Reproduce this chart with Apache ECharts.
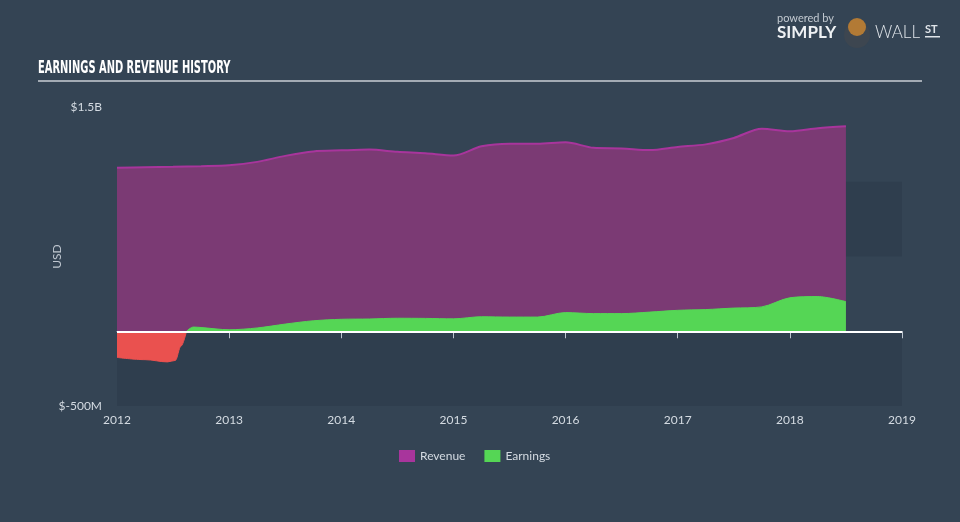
<!DOCTYPE html>
<html>
<head>
<meta charset="utf-8">
<script src="https://cdn.jsdelivr.net/npm/echarts@6/dist/echarts.min.js"></script>
<style>
html,body{margin:0;padding:0;background:#344454;}
#chart{width:960px;height:522px;}
</style>
</head>
<body>
<div id="chart"></div>
<script>
// ---- data (values in USD millions, x in decimal years) ----
var xTicks = [2012, 2013, 2014, 2015, 2016, 2017, 2018, 2019];
var yTickLabels = {"1500": "$1.5B", "-500": "$-500M"};

var revYears = [2012.0, 2012.25, 2012.5, 2012.75, 2013.0, 2013.25, 2013.5, 2013.75, 2014.0, 2014.25, 2014.5, 2014.75, 2015.0, 2015.25, 2015.5, 2015.75, 2016.0, 2016.25, 2016.5, 2016.75, 2017.0, 2017.25, 2017.5, 2017.75, 2018.0, 2018.25, 2018.5];
var revenue = [1093, 1097, 1100, 1104, 1110, 1133, 1173, 1203, 1210, 1215, 1200, 1190, 1175, 1237, 1255, 1255, 1264, 1227, 1223, 1212, 1233, 1250, 1293, 1355, 1337, 1358, 1371];

var negYears = [2012.0, 2012.25, 2012.45, 2012.52, 2012.57, 2012.62];
var negEarnings = [-175, -190, -205, -195, -100, 0];

var posYears = [2012.62, 2012.68, 2012.75, 2013.0, 2013.25, 2013.5, 2013.75, 2014.0, 2014.25, 2014.5, 2014.75, 2015.0, 2015.25, 2015.5, 2015.75, 2016.0, 2016.25, 2016.5, 2016.75, 2017.0, 2017.25, 2017.5, 2017.75, 2018.0, 2018.25, 2018.5];
var posEarnings = [0, 28, 25, 10, 22, 48, 70, 80, 82, 87, 86, 83, 97, 95, 95, 125, 118, 118, 128, 140, 145, 155, 163, 224, 232, 198];

function zip(xs, ys) { return xs.map(function (x, i) { return [x, ys[i]]; }); }

var C_REV_LINE = '#a8359c';
var C_REV_FILL = '#7b3a74';
var C_GREEN = '#55d655';
var C_RED = '#ea514f';
var TXT = '#d4dbe2';
var FONT = 'Lato, "Open Sans", sans-serif';

var chart = echarts.init(document.getElementById('chart'));
chart.setOption({
  backgroundColor: '#344454',
  animation: false,
  grid: { left: 117, right: 58, top: 107, bottom: 116 },
  legend: {
    data: [
      { name: 'Revenue', itemStyle: { color: C_REV_LINE } },
      { name: 'Earnings', itemStyle: { color: C_GREEN } }
    ],
    left: 394, top: 445,
    itemWidth: 16, itemHeight: 12, itemGap: 19,
    icon: 'rect',
    textStyle: { color: TXT, fontFamily: FONT, fontSize: 12 }
  },
  xAxis: {
    type: 'value', min: xTicks[0], max: xTicks[xTicks.length - 1], interval: 1,
    axisLine: { lineStyle: { color: '#bcc5cf', width: 1 } },
    axisTick: { length: 7, lineStyle: { color: '#bcc5cf' } },
    splitLine: { show: false },
    axisLabel: { color: TXT, fontFamily: FONT, fontSize: 12, margin: 8,
      formatter: function (v) { return String(Math.round(v)); } }
  },
  yAxis: {
    type: 'value', min: -500, max: 1500, interval: 500,
    name: 'USD', nameLocation: 'middle', nameGap: 54, nameRotate: 90,
    nameMoveOverlap: false,
    nameTextStyle: { color: '#bfc7d0', fontFamily: FONT, fontSize: 12 },
    axisLine: { show: false }, axisTick: { show: false },
    splitLine: { show: false },
    splitArea: { show: true, areaStyle: { color: ['rgba(20,30,42,0.14)', 'rgba(0,0,0,0)'] } },
    axisLabel: { color: TXT, fontFamily: FONT, fontSize: 12, margin: 15,
      formatter: function (v) { return yTickLabels[String(v)] || ''; } }
  },
  series: [
    {
      name: 'Revenue', type: 'line', data: zip(revYears, revenue),
      smooth: 0.3, symbol: 'none',
      lineStyle: { color: C_REV_LINE, width: 2 },
      itemStyle: { color: C_REV_LINE },
      areaStyle: { color: C_REV_FILL, opacity: 1 },
      z: 2
    },
    {
      name: 'Earnings', type: 'line', data: zip(posYears, posEarnings),
      smooth: 0.3, symbol: 'none',
      lineStyle: { color: C_GREEN, width: 1 },
      itemStyle: { color: C_GREEN },
      areaStyle: { color: C_GREEN, opacity: 1 },
      z: 3
    },
    {
      name: 'Loss', type: 'line', data: zip(negYears, negEarnings),
      smooth: 0.35, smoothMonotone: 'x', symbol: 'none',
      lineStyle: { color: C_RED, width: 1 },
      itemStyle: { color: C_RED },
      areaStyle: { color: C_RED, opacity: 1 },
      z: 3,
      markLine: {
        silent: true, symbol: 'none', label: { show: false },
        lineStyle: { color: '#ffffff', width: 2, type: 'solid' },
        data: [{ yAxis: 0 }]
      }
    }
  ],
  graphic: [
    { type: 'text', x: 38, y: 68, scaleY: 1.6,
      style: { text: 'EARNINGS AND REVENUE HISTORY', fill: '#ffffff',
        font: 'bold 11px "Liberation Sans Narrow", "DejaVu Sans Condensed", sans-serif',
        textVerticalAlign: 'middle' } },
    { type: 'rect', shape: { x: 38, y: 80, width: 884, height: 2 },
      style: { fill: '#a3abb4' } },
    // logo
    { type: 'text', x: 777, y: 18,
      style: { text: 'powered by', fill: '#c3cad1', font: '11px Lato, sans-serif', textVerticalAlign: 'middle' } },
    { type: 'text', x: 777, y: 33,
      style: { text: 'SIMPLY', fill: '#eef1f4', font: 'bold 17px Lato, sans-serif', textVerticalAlign: 'middle' } },
    { type: 'circle', shape: { cx: 857, cy: 35, r: 13 }, style: { fill: '#3d4650' } },
    { type: 'circle', shape: { cx: 857, cy: 27, r: 9 }, style: { fill: '#b27a35' } },
    { type: 'text', x: 875, y: 33,
      style: { text: 'WALL', fill: '#dfe4e9', font: '300 17px Lato, sans-serif', textVerticalAlign: 'middle' } },
    { type: 'text', x: 925, y: 29,
      style: { text: 'ST', fill: '#dfe4e9', font: 'bold 11px Lato, sans-serif', textVerticalAlign: 'middle' } },
    { type: 'rect', shape: { x: 925, y: 36, width: 15, height: 1.5 }, style: { fill: '#dfe4e9' } }
  ]
});
</script>
</body>
</html>
